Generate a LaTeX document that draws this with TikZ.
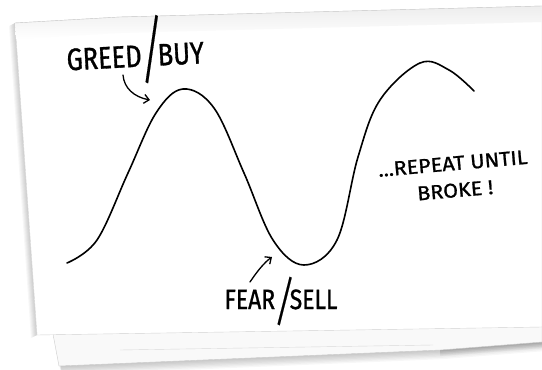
\documentclass[tikz,border=0pt]{standalone}
\usepackage{fontspec}
\newfontfamily\handfont[FakeStretch=0.82, FakeBold=1]{Fira Sans}
\newfontfamily\widehand[FakeStretch=1.08, FakeBold=1]{Fira Sans}
\newfontfamily\slashfont[FakeSlant=0.22, FakeBold=0.5]{Fira Sans}
\usepackage{tikz}
\usetikzlibrary{arrows.meta, positioning, calc}

% tall slash for the hand lettering
\newcommand{\bigslash}[2]{\raisebox{#2}{\scalebox{1}[#1]{\slashfont /}}}

\begin{document}
\begin{tikzpicture}[x=1pt, y=-1pt,
    sheet/.style={fill=white, draw=gray!35, line width=0.4pt},
    hand/.style={line width=1.6pt, line cap=round, line join=round},
    pointer/.style={line width=1.3pt, line cap=round, -{Straight Barb[length=5pt,width=9pt]}},
    scrawl/.style={inner sep=0pt, text=black}]
    % Background
    \fill[white] (0,0) rectangle (542,370);
    \useasboundingbox (0,0) rectangle (542,370);

    % Shadows under the sheets
    \foreach \d in {1,...,7}
        \fill[black, opacity=0.03] ($(59,366)+(0.4*\d,1.3*\d)$) -- ($(440,350)+(0.4*\d,1.3*\d)$)
            -- ($(542,342)+(0.4*\d,1.3*\d)$) -- (542,330) -- (59,340) -- cycle;
    \foreach \d in {1,...,4}
        \fill[black, opacity=0.04] ($(440,350)+(0,1.5*\d)$) -- ($(542,342)+(0,1.5*\d)$) -- (542,330) -- (440,340) -- cycle;
    \foreach \d in {1,...,6}
        \fill[black, opacity=0.03] ($(15,23)+(-\d,0.5*\d)$) -- ($(37,335)+(-\d,0.5*\d)$) -- (37,335) -- (15,23) -- cycle;

    % Lower sheet
    \fill[gray!5, draw=gray!40, line width=0.4pt] (53,334) -- (59,366) -- (440,350) -- (542,342) -- (542,326) -- cycle;
    \draw[gray!30] (120,350) -- (433,345);

    % Top sheet
    \draw[sheet] (15,23) -- (120,17) -- (542,6) -- (542,327) -- (37,335) -- cycle;
    \shade[top color=gray!14, bottom color=white] (15,23) -- (120,17) -- (542,6) -- (542,22) -- (120,33) -- (16,39) -- cycle;
    \draw[gray!40, line width=0.4pt] (15,23) -- (120,17) -- (542,6);

    % Price curve
    \draw[hand] plot[smooth, tension=0.6] coordinates {(67,263) (97,240) (128,173) (156,113) (183,89)
        (214,108) (244,173) (273,240) (304,265) (337,240) (358,157) (380,100) (420,63) (449,70) (474,91)};

    % Labels
    \node[scrawl, font=\handfont\fontsize{31}{34}\selectfont, rotate=3] (greed) at (135,50) {GREED\bigslash{2.4}{-0.3em}BUY};
    \node[scrawl, font=\handfont\fontsize{28}{32}\selectfont] (fear) at (281,301) {FEAR\bigslash{1.9}{-0.38em}SELL};
    \node[scrawl, font=\widehand\fontsize{20}{27}\selectfont, align=center, rotate=5] (repeat) at (454,177) {...REPEAT UNTIL\\BROKE !};

    % Pointers
    \coordinate (buyfoot) at (123,75);
    \coordinate (buytip) at (150,100);
    \coordinate (sellfoot) at (250,282);
    \coordinate (selltip) at (272,257);
    \draw[pointer] (buyfoot) .. controls (124,88) and (134,97) .. (buytip);
    \draw[pointer] (sellfoot) .. controls (258,270) and (265,262) .. (selltip);
\end{tikzpicture}
\end{document}
